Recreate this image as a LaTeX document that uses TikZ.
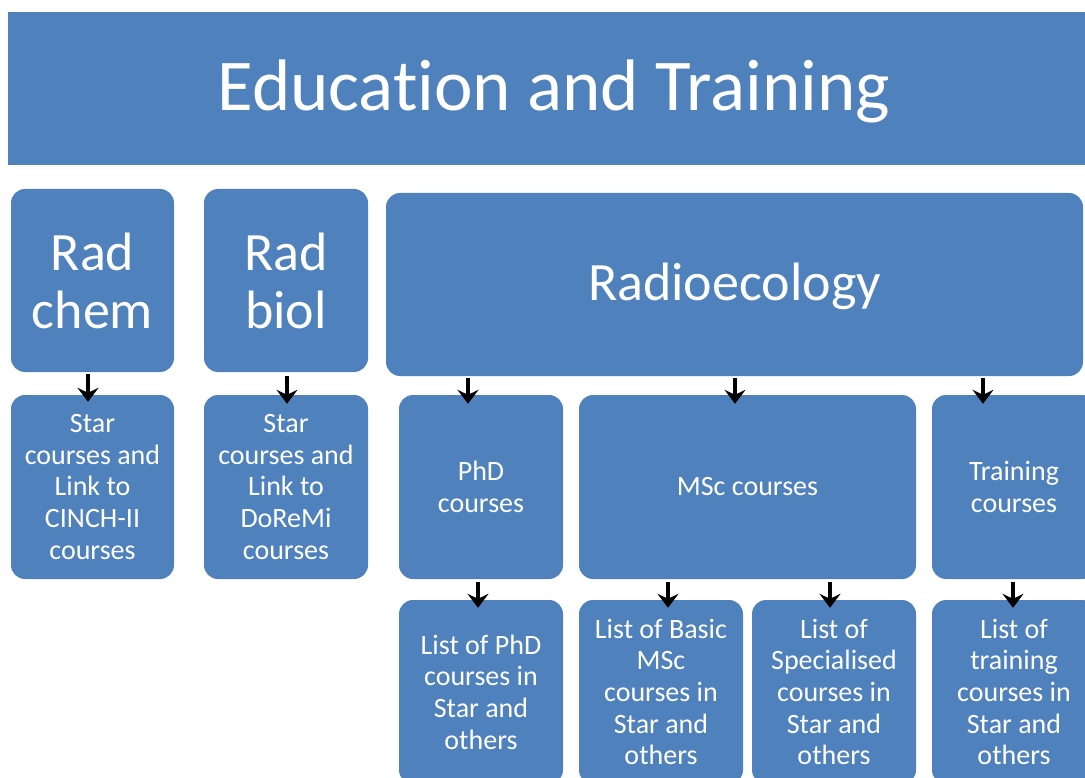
\documentclass[tikz,border=0pt]{standalone}
\usepackage{fontspec}
\setmainfont{Carlito}[Ligatures={NoCommon,NoContextual}]
\usetikzlibrary{arrows.meta}
\definecolor{boxblue}{RGB}{79,129,189}
\tikzset{
  box/.style={fill=boxblue, draw=none, rounded corners=14pt, inner sep=0pt, text=white, align=center},
  big/.style={font=\fontsize{54}{58}\selectfont},
  mid/.style={font=\fontsize{28}{31.7}\selectfont},
  arr/.style={line width=4.5pt, -{Stealth[length=14pt,width=21pt,inset=5pt]}}
}
\begin{document}
\begin{tikzpicture}[x=1pt,y=-1pt]
\useasboundingbox (0,0) rectangle (1085,778);
\clip (0,0) rectangle (1085,778);
\node[fill=boxblue, inner sep=0pt, minimum width=1092pt, minimum height=153pt, text=white, text depth=6pt, font=\fontsize{73}{80}\selectfont] (title) at (554,88.5) {Education and Training};
% row 1
\node[box,big,minimum width=163pt,minimum height=183pt] (chem) at (92.5,280.5) {Rad\\chem};
\node[box,big,minimum width=164pt,minimum height=183pt] (biol) at (286,280.5) {Rad\\biol};
\node[box,big,text depth=6pt,minimum width=697pt,minimum height=183pt] (radio) at (734.5,284.5) {Radioecology};
% row 2
\node[box,mid,minimum width=163pt,minimum height=184pt] (chemc) at (92.5,487) {Star\\courses and\\Link to\\CINCH-II\\courses};
\node[box,mid,minimum width=164pt,minimum height=184pt] (biolc) at (286,487) {Star\\courses and\\Link to\\DoReMi\\courses};
\node[box,mid,minimum width=164pt,minimum height=184pt] (phd) at (481,487) {PhD\\courses};
\node[box,mid,minimum width=337pt,minimum height=184pt] (msc) at (747.5,487) {MSc courses};
\node[box,mid,minimum width=164pt,minimum height=184pt] (train) at (1014,487) {Training\\courses};
% row 3
\node[box,mid,minimum width=164pt,minimum height=184pt] (phdl) at (481,692) {List of PhD\\courses in\\Star and\\others};
\node[box,mid,minimum width=164pt,minimum height=184pt] (basic) at (661,692) {List of Basic\\MSc\\courses in\\Star and\\others};
\node[box,mid,minimum width=164pt,minimum height=184pt] (spec) at (834,692) {List of\\Specialised\\courses in\\Star and\\others};
\node[box,mid,minimum width=164pt,minimum height=184pt] (trainl) at (1014,692) {List of\\training\\courses in\\Star and\\others};
% arrows
\draw[arr] ([xshift=-4.5pt,yshift=-2pt]chem.south) -- ([xshift=-4.5pt,yshift=-7pt]chemc.north);
\draw[arr] ([xshift=1pt,yshift=-4pt]biol.south) -- ([xshift=1pt,yshift=-9pt]biolc.north);
\draw[arr] ([xshift=-266.5pt,yshift=-2pt]radio.south) -- ([xshift=-13pt,yshift=-9pt]phd.north);
\draw[arr] ([xshift=0.5pt,yshift=-2pt]radio.south) -- ([xshift=-12.5pt,yshift=-9pt]msc.north);
\draw[arr] ([xshift=248.5pt,yshift=-2pt]radio.south) -- ([xshift=-31pt,yshift=-9pt]train.north);
\draw[arr] ([xshift=-3pt,yshift=-3pt]phd.south) -- ([xshift=-3pt,yshift=-8pt]phdl.north);
\draw[arr] ([xshift=-79.5pt,yshift=-3pt]msc.south) -- ([xshift=7pt,yshift=-8pt]basic.north);
\draw[arr] ([xshift=82.5pt,yshift=-3pt]msc.south) -- ([xshift=-4pt,yshift=-8pt]spec.north);
\draw[arr] ([xshift=-1pt,yshift=-3pt]train.south) -- ([xshift=-1pt,yshift=-8pt]trainl.north);
\end{tikzpicture}
\end{document}
